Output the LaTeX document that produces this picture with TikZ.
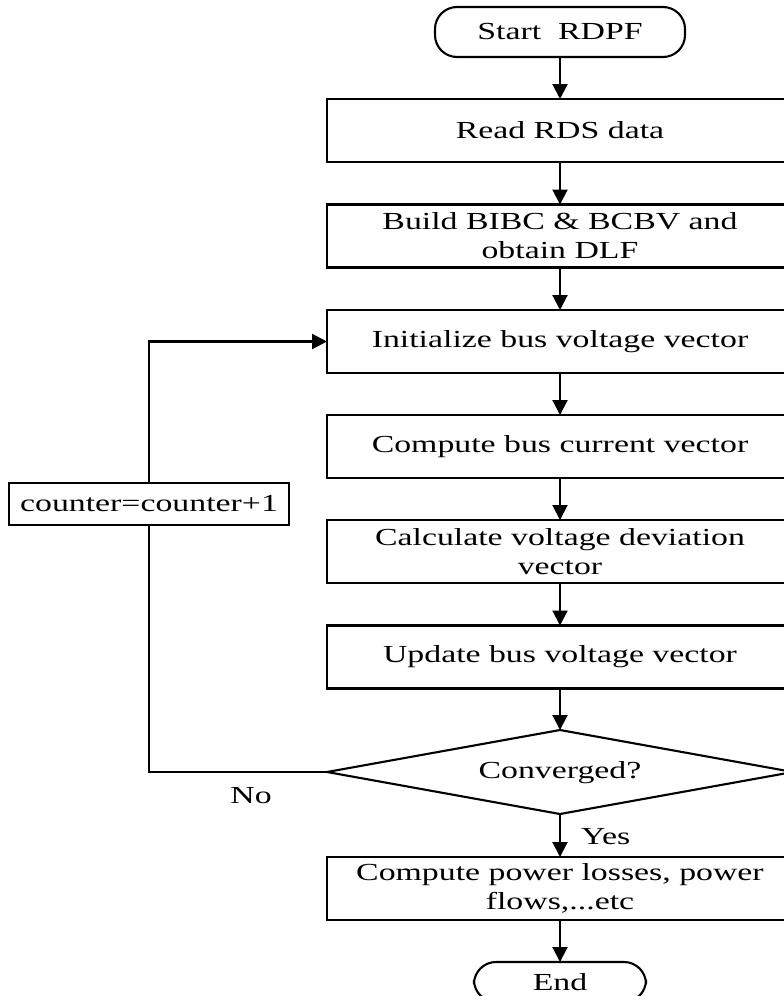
\documentclass[tikz,border=0pt]{standalone}
\usepackage{fontspec}
\setmainfont[FakeStretch=1.38]{Liberation Serif}
\usetikzlibrary{arrows.meta,shapes.geometric}
\begin{document}
\begin{tikzpicture}[x=1pt,y=-1pt,
  font=\fontsize{24.5}{29}\selectfont,
  every node/.style={inner sep=0pt, outer sep=0pt},
  line width=2.1pt,
  procbox/.style={draw, rectangle, minimum width=466pt, minimum height=63pt, align=center},
  termbox/.style={draw, rectangle, rounded corners=22pt, minimum height=50pt},
  decbox/.style={draw, diamond, minimum width=466pt, minimum height=84pt},
  flow/.style={-{Triangle[length=15pt,width=15pt]}}
]
\path[use as bounding box, clip] (0,0) rectangle (784,996);

% main column
\node[termbox, minimum width=250pt] (start) at (560,32) {Start~ RDPF};
\node[procbox] (read)  at (560,130.5) {Read RDS data};
\node[procbox] (build) at (560,236) {Build BIBC \& BCBV and\\obtain DLF};
\node[procbox] (init)  at (560,341.5) {Initialize bus voltage vector};
\node[procbox] (curr)  at (560,446.5) {Compute bus current vector};
\node[procbox] (calc)  at (560,551.5) {Calculate voltage deviation\\vector};
\node[procbox] (upd)   at (560,657) {Update bus voltage vector};
\node[decbox]  (conv)  at (560,772) {};
\node at (560,773) {Converged?};
\node[procbox] (final) at (560,888.5) {Compute power losses, power\\flows,...etc};
\node[termbox, minimum width=172pt, minimum height=40pt] (stop) at (560,982) {End};

% loop-back counter
\node[draw, rectangle, minimum width=280pt, minimum height=42pt] (ctr) at (149,504) {counter=counter+1};

% connectors
\draw[flow] (start) -- (read);
\draw[flow] (read) -- (build);
\draw[flow] (build) -- (init);
\draw[flow] (init) -- (curr);
\draw[flow] (curr) -- (calc);
\draw[flow] (calc) -- (upd);
\draw[flow] (upd) -- (conv.north);
\draw[flow] (conv.south) -- (final);
\draw[flow] (final) -- (stop);
\draw (conv.west) -| (ctr.south);
\draw[flow] (ctr.north) |- (init.west);

% branch labels
\node[anchor=west] (yes) at (581,837) {Yes};
\node (no) at (251,796) {No};
\end{tikzpicture}
\end{document}
